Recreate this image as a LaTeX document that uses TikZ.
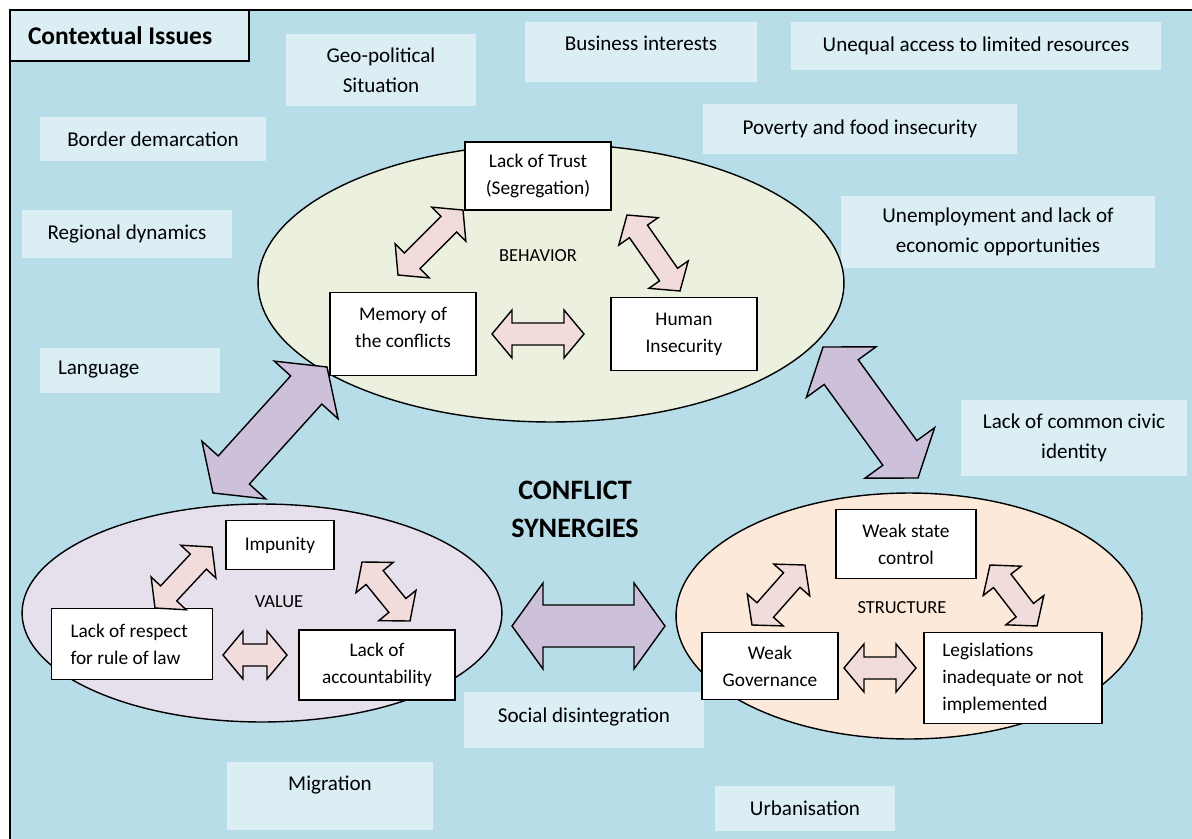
\documentclass[tikz,border=0pt]{standalone}
\usepackage{fontspec}
\setmainfont{Carlito}
\usepackage{tikz}
\usetikzlibrary{calc}
\usetikzlibrary{shapes.geometric}
\definecolor{paleaqua}{RGB}{183,221,232}
\definecolor{palebox}{RGB}{218,238,243}
\definecolor{palegreen}{RGB}{235,241,222}
\definecolor{palelilac}{RGB}{229,224,236}
\definecolor{palepeach}{RGB}{253,233,217}
\definecolor{palepink}{RGB}{242,220,219}
\definecolor{lilac}{RGB}{204,192,218}
\tikzset{
head len/.store in=\hlen, head half/.store in=\hhalf, shaft half/.store in=\shalf,
issue/.style = {rectangle, fill=palebox, align=center, inner sep=0pt, font=\fontsize{12}{17}\selectfont},
factor/.style = {rectangle, draw, fill=white, line width=1.1pt, align=center, inner sep=0pt, font=\fontsize{11}{15.3}\selectfont},
sphere/.style = {ellipse, draw, line width=0.8pt, inner sep=0pt},
tag/.style = {font=\fontsize{10.5}{12}\selectfont},
minor/.style = {draw, line width=0.8pt, fill=palepink, head len=0.4cm, head half=0.48cm, shaft half=0.22cm},
major/.style = {draw, line width=0.8pt, fill=lilac, head len=0.62cm, head half=0.86cm, shaft half=0.42cm}
}
\newcommand\twoway[3]{%
  \draw[#1] (#2)
    -- ($(#2)!\hlen!(#3)!\hhalf!90:(#3)$) -- ($(#2)!\hlen!(#3)!\shalf!90:(#3)$)
    -- ($(#3)!\hlen!(#2)!\shalf!-90:(#2)$) -- ($(#3)!\hlen!(#2)!\hhalf!-90:(#2)$)
    -- (#3)
    -- ($(#3)!\hlen!(#2)!\hhalf!90:(#2)$) -- ($(#3)!\hlen!(#2)!\shalf!90:(#2)$)
    -- ($(#2)!\hlen!(#3)!\shalf!-90:(#3)$) -- ($(#2)!\hlen!(#3)!\hhalf!-90:(#3)$)
    -- cycle;}

\begin{document}
\begin{tikzpicture}[x=0.02cm, y=-0.02cm]
    \clip (0,0) rectangle (1192,838);
    \fill [white] (0,0) rectangle (1192,838);
    \draw [fill=paleaqua, line width=1.1pt] (10,10) rectangle (1220,860);
    \node [issue, draw, line width=1.1pt, minimum width=4.78cm, minimum height=1.02cm, text width=4.06cm, align=flush left, font=\fontsize{14.5}{17}\bfseries] (title) at (129.5,35.5) {Contextual Issues};

    % context issues
    \node [issue, minimum width=3.8cm, minimum height=1.44cm] (geo) at (381,70) {Geo-political\\Situation};
    \node [issue, minimum width=4.64cm, minimum height=1.2cm, text depth=0.36cm] (business) at (641,52) {Business interests};
    \node [issue, minimum width=7.42cm, minimum height=0.96cm] (unequal) at (976,46) {Unequal access to limited resources};
    \node [issue, minimum width=4.54cm, minimum height=0.88cm] (border) at (153,139) {Border demarcation};
    \node [issue, minimum width=6.28cm, minimum height=1.02cm] (poverty) at (860,129) {Poverty and food insecurity};
    \node [issue, minimum width=4.2cm, minimum height=0.96cm] (regional) at (127,234) {Regional dynamics};
    \node [issue, minimum width=6.28cm, minimum height=1.44cm] (jobs) at (998,232) {Unemployment and lack of\\economic opportunities};
    \node [issue, minimum width=3.6cm, minimum height=0.9cm, text width=2.88cm, align=flush left] (language) at (130,370) {Language};
    \node [issue, minimum width=4.54cm, minimum height=1.52cm] (civic) at (1074,438) {Lack of common civic\\identity};
    \node [issue, minimum width=4.8cm, minimum height=1.12cm, text depth=0.18cm] (social) at (584,720) {Social disintegration};
    \node [issue, minimum width=4.14cm, minimum height=1.36cm, text depth=0.5cm] (migration) at (330,796) {Migration};
    \node [issue, minimum width=3.6cm, minimum height=0.9cm] (urban) at (805,808) {Urbanisation};

    % spheres
    \node [sphere, fill=palegreen, minimum width=11.72cm, minimum height=5.56cm] (behavior) at (551,283) {};
    \node [sphere, fill=palelilac, minimum width=9.6cm, minimum height=4.36cm] (value) at (262,613) {};
    \node [sphere, fill=palepeach, minimum width=9.32cm, minimum height=4.92cm] (structure) at (909,616) {};

    \coordinate (bv-a) at (213,493);
    \coordinate (bv-b) at (327,367);
    \coordinate (bs-a) at (823,347);
    \coordinate (bs-b) at (918,478);
    \coordinate (vs-a) at (512,626);
    \coordinate (vs-b) at (665,626);
    \twoway{major}{bv-a}{bv-b}
    \twoway{major}{bs-a}{bs-b}
    \twoway{major}{vs-a}{vs-b}

    % behavior
    \node [factor, minimum width=2.92cm, minimum height=1.36cm] (trust) at (538,176) {Lack of Trust\\(Segregation)};
    \node [factor, minimum width=2.92cm, minimum height=1.66cm, text depth=0.28cm] (memory) at (403,334) {Memory of\\the conflicts};
    \node [factor, minimum width=2.92cm, minimum height=1.46cm] (human) at (684,334) {Human\\Insecurity};
    \node [tag] (behaviortag) at (538,256) {BEHAVIOR};
    \coordinate (memory-up) at (398,275);
    \coordinate (trust-left) at (463,210);
    \coordinate (trust-right) at (627,215);
    \coordinate (human-up) at (680,291);
    \coordinate (memory-right) at (492,334);
    \coordinate (human-left) at (584,334);
    \twoway{minor}{memory-up}{trust-left}
    \twoway{minor}{trust-right}{human-up}
    \twoway{minor}{memory-right}{human-left}

    % value
    \node [factor, minimum width=2.16cm, minimum height=0.98cm] (impunity) at (280,545) {Impunity};
    \node [factor, minimum width=3.22cm, minimum height=1.42cm, text width=2.46cm, align=flush left] (respect) at (132,644) {Lack of respect\\for rule of law};
    \node [factor, minimum width=3.12cm, minimum height=1.4cm] (account) at (377,665) {Lack of\\accountability};
    \node [tag] (valuetag) at (279,602) {VALUE};
    \coordinate (respect-up) at (155,608);
    \coordinate (impunity-left) at (212,547);
    \coordinate (impunity-right) at (362,562);
    \coordinate (account-up) at (410,621);
    \coordinate (respect-right) at (223,655);
    \coordinate (account-left) at (287,655);
    \twoway{minor}{respect-up}{impunity-left}
    \twoway{minor}{impunity-right}{account-up}
    \twoway{minor}{respect-right}{account-left}

    % structure
    \node [factor, minimum width=2.8cm, minimum height=1.38cm] (state) at (906,544) {Weak state\\control};
    \node [factor, minimum width=2.72cm, minimum height=1.34cm] (governance) at (770,666) {Weak\\Governance};
    \node [factor, minimum width=3.56cm, minimum height=1.82cm, align=flush left] (legis) at (1013,678) {Legislations\\inadequate or not\\implemented};
    \node [tag] (structuretag) at (902,608) {STRUCTURE};
    \coordinate (governance-up) at (752,625);
    \coordinate (state-left) at (805,565);
    \coordinate (state-right) at (990,565);
    \coordinate (legis-up) at (1037,626);
    \coordinate (governance-right) at (844,668);
    \coordinate (legis-left) at (916,668);
    \twoway{minor}{governance-up}{state-left}
    \twoway{minor}{state-right}{legis-up}
    \twoway{minor}{governance-right}{legis-left}

    \node [align=center, font=\fontsize{16}{21.5}\bfseries] (synergy) at (575,509) {CONFLICT\\SYNERGIES};
\end{tikzpicture}
\end{document}
